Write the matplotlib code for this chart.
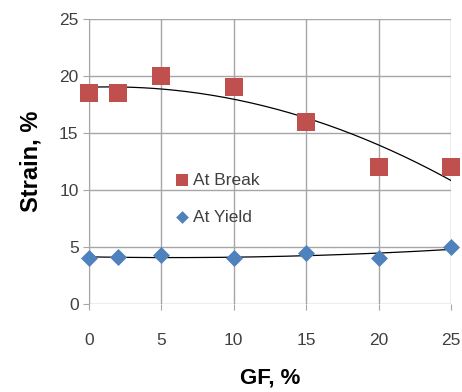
import matplotlib
matplotlib.use("Agg")
import matplotlib.pyplot as plt
import numpy as np

gf = [0, 2, 5, 10, 15, 20, 25]
at_break = [18.5, 18.5, 20, 19, 16, 12, 12]
at_yield = [4.0, 4.1, 4.3, 4.0, 4.5, 4.0, 5.0]

plt.rcParams["font.family"] = ["Liberation Sans", "DejaVu Sans"]

fig = plt.figure(figsize=(4.62, 3.92), dpi=100)
ax = fig.add_axes([0.1926, 0.2245, 0.7834, 0.727])

grid_color = "#a6a6a6"
text_color = "#404040"

ax.scatter(gf, at_break, marker="s", s=150, color="#c0504d", zorder=3, clip_on=False, linewidths=0, label="At Break")
ax.scatter(gf, at_yield, marker="D", s=75, color="#4f81bd", zorder=3, clip_on=False, linewidths=0, label="At Yield")

# polynomial trendlines
xs = np.linspace(0, 25, 200)
for ys in (at_break, at_yield):
	coef = np.polyfit(gf, ys, 2)
	ax.plot(xs, np.polyval(coef, xs), color="black", lw=0.9, zorder=2)

ax.set_xlim(0, 25)
ax.set_ylim(0, 25)
ax.set_xticks(range(0, 26, 5))
ax.set_yticks(range(0, 26, 5))
ax.grid(True, color=grid_color, lw=1)
ax.set_axisbelow(True)
for side in ("top", "right", "bottom"):
	ax.spines[side].set_visible(False)
ax.spines["left"].set_color(grid_color)
ax.tick_params(axis="both", colors=grid_color, labelcolor=text_color, labelsize=12.5, length=4)
ax.tick_params(axis="x", pad=17)
ax.set_xlabel("GF, %", fontsize=16, fontweight="bold", color="black", labelpad=14)
ax.set_ylabel("Strain, %", fontsize=17, fontweight="bold", color="black", labelpad=12)

ax.legend(loc="upper left", bbox_to_anchor=(0.215, 0.485), frameon=False, fontsize=12.5,
	labelcolor=text_color, handletextpad=0.1, labelspacing=1.25, borderaxespad=0, handlelength=1.0,
	markerscale=0.75)

fig.savefig("out.png", dpi=100)
